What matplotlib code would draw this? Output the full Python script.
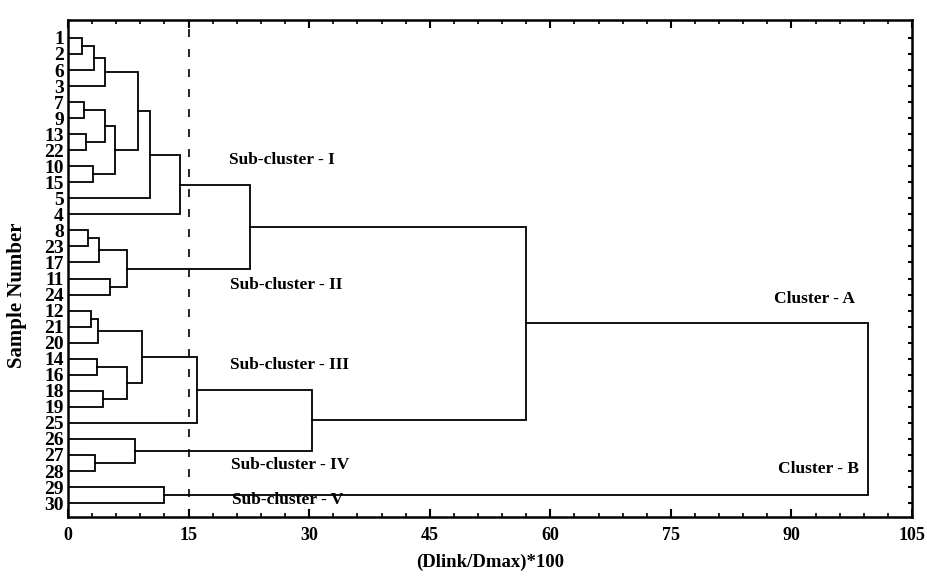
import matplotlib
matplotlib.use("Agg")
import matplotlib.pyplot as plt
from matplotlib.ticker import MultipleLocator

plt.rcParams['font.family'] = ['Liberation Serif', 'DejaVu Serif']
plt.rcParams['font.weight'] = 'bold'

# leaf order top -> bottom
leaves = [1, 2, 6, 3, 7, 9, 13, 22, 10, 15, 5, 4, 8, 23, 17, 11, 24,
          12, 21, 20, 14, 16, 18, 19, 25, 26, 27, 28, 29, 30]

# merges: (name, left, right, distance)  leaves are ints, clusters are strings
merges = [
    ("m1", 1, 2, 1.8),
    ("m2", "m1", 6, 3.2),
    ("m3", "m2", 3, 4.6),
    ("m4", 7, 9, 2.0),
    ("m5", 13, 22, 2.2),
    ("m6", "m4", "m5", 4.6),
    ("m7", 10, 15, 3.1),
    ("m8", "m6", "m7", 5.9),
    ("m9", "m3", "m8", 8.7),
    ("m10", "m9", 5, 10.2),
    ("m11", "m10", 4, 13.9),
    ("m12", 8, 23, 2.5),
    ("m13", "m12", 17, 3.9),
    ("m14", 11, 24, 5.2),
    ("m15", "m13", "m14", 7.3),
    ("m16", "m11", "m15", 22.6),
    ("m17", 12, 21, 2.8),
    ("m18", "m17", 20, 3.7),
    ("m19", 14, 16, 3.6),
    ("m20", 18, 19, 4.3),
    ("m21", "m19", "m20", 7.3),
    ("m22", "m18", "m21", 9.2),
    ("m23", "m22", 25, 16.0),
    ("m24", 27, 28, 3.4),
    ("m25", 26, "m24", 8.3),
    ("m26", "m23", "m25", 30.3),
    ("m27", "m16", "m26", 57.0),
    ("m28", 29, 30, 11.9),
    ("m29", "m27", "m28", 99.5),
]

cut_level = 15

labels = [
    ("Sub-cluster - I", 20.0, 8.6),
    ("Sub-cluster - II", 20.1, 16.4),
    ("Sub-cluster - III", 20.1, 21.4),
    ("Sub-cluster - IV", 20.3, 27.6),
    ("Sub-cluster - V", 20.4, 29.8),
    ("Cluster - A", 87.8, 17.3),
    ("Cluster - B", 88.3, 27.9),
]

fig = plt.figure(figsize=(9.28, 5.79), dpi=100)
ax = fig.add_axes([0.0733, 0.107, 0.9095, 0.8585])

pos = {leaf: i + 1 for i, leaf in enumerate(leaves)}
height = {leaf: 0.0 for leaf in leaves}
lw = 1.3
for name, a, b, d in merges:
    ya, yb = pos[a], pos[b]
    ax.plot([height[a], d, d, height[b]], [ya, ya, yb, yb], color='black', lw=lw,
            solid_joinstyle='miter')
    pos[name] = (ya + yb) / 2
    height[name] = d

ax.axvline(cut_level, color='black', lw=1.2, dashes=(4.8, 7.2))

for txt, x, y in labels:
    ax.text(x, y, txt, fontsize=12.5, fontweight='bold', va='center', ha='left')

ax.set_xlim(0, 105)
ax.set_ylim(30.87, -0.12)
ax.set_yticks(range(1, len(leaves) + 1))
ax.set_yticklabels([str(v) for v in leaves], fontsize=14, fontweight='bold')
ax.xaxis.set_major_locator(MultipleLocator(15))
ax.xaxis.set_minor_locator(MultipleLocator(3))
for t in ax.get_xticklabels():
    t.set_fontsize(13)
    t.set_fontweight('bold')

ax.tick_params(axis='x', which='major', direction='in', length=6, width=1.5,
               top=True, pad=7, labelsize=13)
ax.tick_params(axis='x', which='minor', direction='in', length=3, width=1.2, top=True)
ax.tick_params(axis='y', which='major', direction='in', length=3, width=1.5,
               left=False, right=True, pad=3)
for s in ax.spines.values():
    s.set_linewidth(1.8)

ax.set_xlabel("(Dlink/Dmax)*100", fontsize=13.5, fontweight='bold')
ax.xaxis.set_label_coords(0.5, -0.074)
ax.set_ylabel("Sample Number", fontsize=15, fontweight='bold')
ax.yaxis.set_label_coords(-0.0486, 0.447)

fig.savefig("out.png", dpi=100)
